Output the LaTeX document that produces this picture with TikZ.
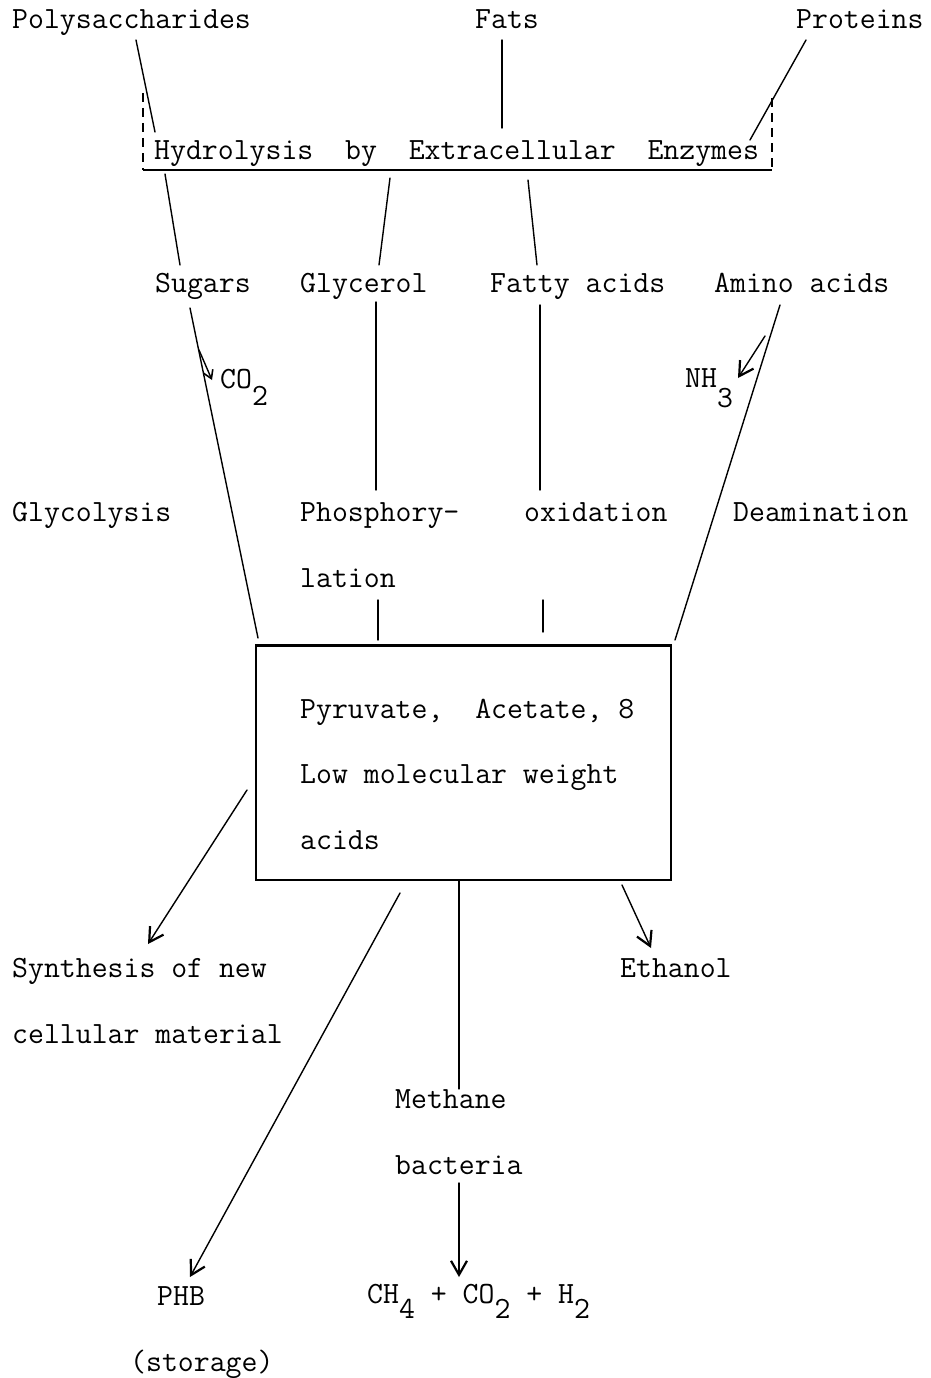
\documentclass[tikz,border=0pt]{standalone}
\usepackage{fontspec}
\newfontfamily\typewriter{Latin Modern Mono}
\usetikzlibrary{arrows.meta}
\begin{document}
\begin{tikzpicture}[x=1pt,y=-1pt,
  lbl/.style={anchor=base west, inner sep=0pt, font=\typewriter\fontsize{30.9}{34}\selectfont},
  ln/.style={line width=1.4pt, line cap=round},
  arr/.style={ln, -{Straight Barb[length=14pt,width=16pt,line width=2.2pt]}},
  smallarr/.style={ln, -{Straight Barb[length=8pt,width=10pt,line width=1.6pt]}},
  bracket/.style={line width=1.3pt, dash pattern=on 9pt off 6pt}]
\useasboundingbox (0,0) rectangle (931,1378);

% substrates
\node[lbl] (poly) at (12,29) {Polysaccharides};
\node[lbl] (fats) at (475,29) {Fats};
\node[lbl] (prot) at (796,29) {Proteins};

% hydrolysis step
\node[lbl] (hydro) at (154,160) {Hydrolysis~ by~ Extracellular~ Enzymes};
\coordinate (brTL) at (143,93);
\coordinate (brBL) at (143,170);
\coordinate (brTR) at (772,98);
\coordinate (brBR) at (772,170);
\draw[bracket] (brTL) -- (brBL);
\draw[bracket] (brTR) -- (brBR);
\draw[line width=1.8pt] (brBL) -- (brBR);

% monomers
\node[lbl] (sugars) at (155,292) {Sugars};
\node[lbl] (glyc) at (300,292) {Glycerol};
\node[lbl] (fatty) at (490,292) {Fatty acids};
\node[lbl] (amino) at (714,292) {Amino acids};

% by-products
\node[lbl] (co2) at (220,388) {CO\raisebox{-17pt}{2}};
\node[lbl] (nh3) at (685,387) {NH\raisebox{-20pt}{3}};

% pathways
\node[lbl] (glyco) at (12,521) {Glycolysis};
\node[lbl] (phos) at (300,521) {Phosphory-};
\node[lbl] (lation) at (300,587) {lation};
\node[lbl] (oxid) at (524,521) {oxidation};
\node[lbl] (deam) at (733,521) {Deamination};

% central pool
\node[draw, line width=1.5pt, minimum width=415pt, minimum height=234pt, inner sep=0pt] (box) at (463.5,763) {};
\draw[line width=2.6pt] (box.north west) -- (box.north east);
\node[lbl] (pyr) at (300,718) {Pyruvate,~ Acetate, 8};
\node[lbl] (lmw) at (300,783) {Low molecular weight};
\node[lbl] (acids) at (300,849) {acids};

% products
\node[lbl] (synth) at (12,977) {Synthesis of new};
\node[lbl] (cell) at (12,1043) {cellular material};
\node[lbl] (eth) at (620,977) {Ethanol};
\node[lbl] (meth) at (395,1108) {Methane};
\node[lbl] (bact) at (395,1174) {bacteria};
\node[lbl] (phb) at (157,1305) {PHB};
\node[lbl] (stor) at (130,1371) {(storage)};
\node[lbl] (gas) at (367,1303) {CH\raisebox{-15pt}{4} + CO\raisebox{-15pt}{2} + H\raisebox{-15pt}{2}};

% connector end points
\coordinate (polyS) at (136,40);
\coordinate (hydroP) at (155,132);
\coordinate (fatsS) at (502,40);
\coordinate (hydroF) at (502,128);
\coordinate (protS) at (806,40);
\coordinate (hydroR) at (750,140);
\coordinate (hydroS) at (165,174);
\coordinate (sugN) at (180,265);
\coordinate (hydroG) at (390,178);
\coordinate (glyN) at (379,265);
\coordinate (hydroA) at (528,180);
\coordinate (fatN) at (537,265);
\coordinate (sugS) at (190,308);
\coordinate (boxSug) at (258,638);
\coordinate (co2From) at (199,350);
\coordinate (co2To) at (212,380);
\coordinate (glyS) at (376,302);
\coordinate (phosN) at (376,490);
\coordinate (lationS) at (378,600);
\coordinate (boxGly) at (378,640);
\coordinate (fatS) at (540,305);
\coordinate (oxidN) at (540,490);
\coordinate (oxidS) at (543,600);
\coordinate (boxFat) at (543,632);
\coordinate (amiS) at (780,305);
\coordinate (boxAmi) at (675,640);
\coordinate (nhFrom) at (765,336);
\coordinate (nhTo) at (738,378);
\coordinate (synFrom) at (247,790);
\coordinate (synTo) at (148,944);
\coordinate (phbFrom) at (400,893);
\coordinate (phbTo) at (190,1277);
\coordinate (methS) at (459,1183);
\coordinate (gasN) at (459,1277);
\coordinate (ethFrom) at (622,885);
\coordinate (ethTo) at (651,948);

% hydrolysis connectors
\draw[ln] (polyS) -- (hydroP);
\draw[ln] (fatsS) -- (hydroF);
\draw[ln] (protS) -- (hydroR);
\draw[ln] (hydroS) -- (sugN);
\draw[ln] (hydroG) -- (glyN);
\draw[ln] (hydroA) -- (fatN);

% degradation routes into the pool
\draw[ln] (sugS) -- (boxSug);
\draw[smallarr] (co2From) -- (co2To);
\draw[ln] (glyS) -- (phosN);
\draw[ln] (lationS) -- (boxGly);
\draw[ln] (fatS) -- (oxidN);
\draw[ln] (oxidS) -- (boxFat);
\draw[ln] (amiS) -- (boxAmi);
\draw[arr] (nhFrom) -- (nhTo);

% routes out of the pool
\draw[arr] (synFrom) -- (synTo);
\draw[arr] (phbFrom) -- (phbTo);
\draw[ln] ([xshift=-4.5pt]box.south) -- ([xshift=-4.5pt]meth.north -| box.south);
\draw[arr] (methS) -- (gasN);
\draw[arr] (ethFrom) -- (ethTo);
\end{tikzpicture}
\end{document}
